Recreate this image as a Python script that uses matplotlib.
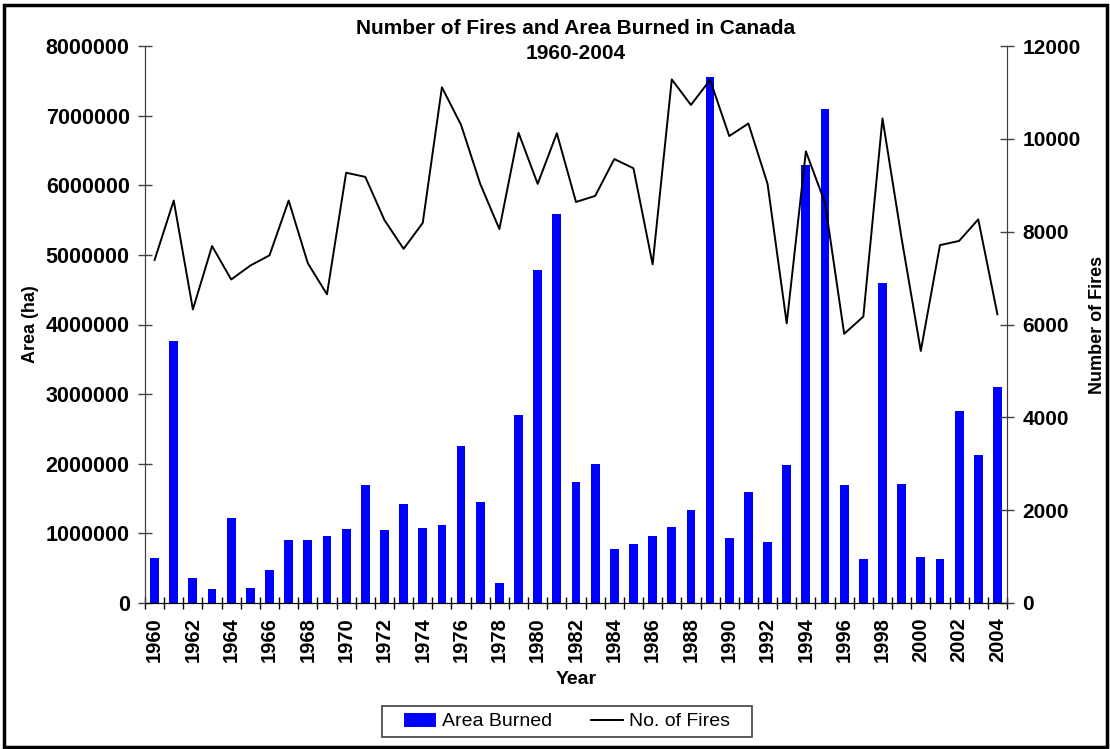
import numpy as np
import matplotlib
matplotlib.use('Agg')
import matplotlib.pyplot as plt
from matplotlib.patches import Rectangle

plt.rcParams['font.family'] = ['Liberation Sans', 'DejaVu Sans']

# Data
years = list(range(1960, 2005))
area_burned = [640000, 3770000, 365000, 200000, 1220000, 215000, 470000, 900000, 900000, 958000,
               1060000, 1700000, 1045000, 1418000, 1073000, 1120000, 2260000, 1447000, 287000, 2707000,
               4780000, 5580000, 1740000, 1993000, 776000, 853000, 958000, 1088000, 1342000, 7550000,
               940000, 1590000, 882000, 1978000, 6290000, 7090000, 1695000, 628000, 4590000, 1710000,
               657000, 628000, 2764000, 2126000, 3103000]
num_fires = [7390, 8670, 6325, 7690, 6970, 7270, 7490, 8670, 7320, 6650,
             9270, 9180, 8250, 7630, 8190, 11110, 10300, 9030, 8055, 10130,
             9030, 10120, 8640, 8770, 9565, 9365, 7295, 11280, 10730, 11270,
             10060, 10330, 9030, 6025, 9730, 8620, 5800, 6170, 10440, 7850,
             5430, 7710, 7800, 8265, 6220]

area_ticks = [0, 1000000, 2000000, 3000000, 4000000, 5000000, 6000000, 7000000, 8000000]
fire_ticks = [0, 2000, 4000, 6000, 8000, 10000, 12000]

fig = plt.figure(figsize=(11.1, 7.49), dpi=100)
ax = fig.add_axes([145/1110, 1 - 603/749, (1007 - 145)/1110, (603 - 46)/749])
ax2 = ax.twinx()

x = np.arange(len(years))
ax.bar(x, area_burned, width=0.46, color='#0000ff', label='Area Burned')
ax2.plot(x, num_fires, color='black', linewidth=1.4, label='No. of Fires')

ax.set_xlim(-0.5, len(years) - 0.5)
ax.set_ylim(0, 8000000)
ax2.set_ylim(0, 12000)

# x axis: labels every other year, tick marks between categories
ax.set_xticks(x[::2])
ax.set_xticklabels([str(y) for y in years[::2]], rotation=90, fontsize=14.5, fontweight='bold')
ax.tick_params(axis='x', which='major', length=0, pad=10)
ax.set_xticks(np.arange(-0.5, len(years)), minor=True)
ax.tick_params(axis='x', which='minor', length=9, direction='inout', width=1)

ax.set_yticks(area_ticks)
ax.set_yticklabels([str(t) for t in area_ticks], fontsize=15.5, fontweight='bold')
ax.tick_params(axis='y', length=10, direction='inout', width=1, color='#404040', pad=6)
ax2.set_yticks(fire_ticks)
ax2.set_yticklabels([str(t) for t in fire_ticks], fontsize=15, fontweight='bold')
ax2.tick_params(axis='y', length=10, direction='inout', width=1, color='#404040', pad=6)

for a in (ax, ax2):
    a.spines['top'].set_visible(False)
    a.spines['left'].set_color('#404040')
    a.spines['right'].set_color('#404040')
    a.spines['bottom'].set_color('black')

ax.set_xlabel('Year', fontsize=14, fontweight='bold', labelpad=7)
ax.set_ylabel('Area (ha)', fontsize=13, fontweight='bold', labelpad=5)
ax2.set_ylabel('Number of Fires', fontsize=13, fontweight='bold', labelpad=6)

fig.text(576/1110, 1 - 41/749, 'Number of Fires and Area Burned in Canada\n1960-2004',
         ha='center', va='center', fontsize=15, fontweight='bold', linespacing=1.35)

h1, l1 = ax.get_legend_handles_labels()
h2, l2 = ax2.get_legend_handles_labels()
fig.legend(h1 + h2, l1 + l2, loc='center', bbox_to_anchor=(567/1110, 1 - 721.5/749), ncol=2,
           fontsize=14, frameon=False, handlelength=1.65, handleheight=0.75,
           handletextpad=0.3, columnspacing=2.0, borderpad=0.2)
# legend box drawn separately (wider side padding than matplotlib's uniform pad)
fig.patches.append(Rectangle((382/1110, 1 - 737/749), 370/1110, 31/749, transform=fig.transFigure,
                             fill=False, edgecolor='#404040', linewidth=1.2))

# outer frame around the chart
fig.patches.append(Rectangle((4/1110, 2/749), 1103/1110, 742/749, transform=fig.transFigure,
                             fill=False, edgecolor='black', linewidth=2.5))

fig.savefig('out.png', dpi=100)
